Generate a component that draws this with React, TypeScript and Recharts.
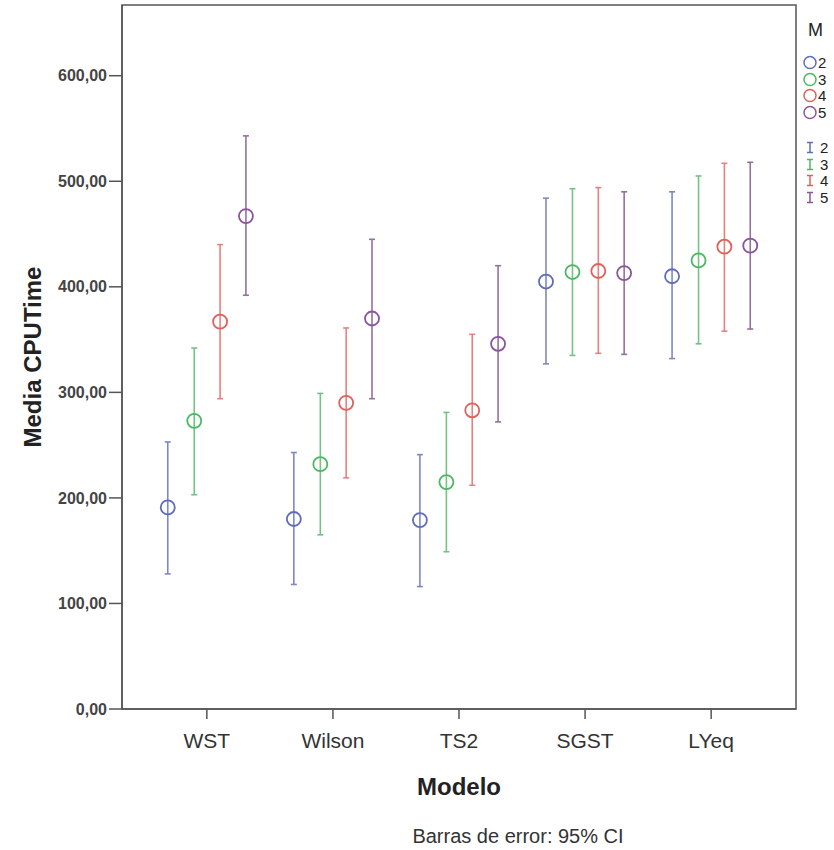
import React from 'react';
import { ScatterChart, Scatter, XAxis, YAxis, ErrorBar, ReferenceArea } from 'recharts';

// Modelo categories and M levels
const categories = ['WST', 'Wilson', 'TS2', 'SGST', 'LYeq'];
const mLevels = ['2', '3', '4', '5'];
const yTicks = [0, 100, 200, 300, 400, 500, 600];

// mean CPUTime per M (one value per modelo)
const meanM2 = [191, 180, 179, 405, 410];
const meanM3 = [273, 232, 215, 414, 425];
const meanM4 = [367, 290, 283, 415, 438];
const meanM5 = [467, 370, 346, 413, 439];

// 95% CI lower bounds
const lowM2 = [128, 118, 116, 327, 332];
const lowM3 = [203, 165, 149, 335, 346];
const lowM4 = [294, 219, 212, 337, 358];
const lowM5 = [392, 294, 272, 336, 360];

// 95% CI upper bounds
const highM2 = [253, 243, 241, 484, 490];
const highM3 = [342, 299, 281, 493, 505];
const highM4 = [440, 361, 355, 494, 517];
const highM5 = [543, 445, 420, 490, 518];

const means = [meanM2, meanM3, meanM4, meanM5];
const lows = [lowM2, lowM3, lowM4, lowM5];
const highs = [highM2, highM3, highM4, highM5];

const colors = ['#5f6db8', '#4cb862', '#e0605a', '#8a559c'];
const barColors = ['#7e87c4', '#72c482', '#e58280', '#93719f'];
// horizontal dodge of each M inside a modelo group
const dodge = [-0.31, -0.1, 0.105, 0.31];

const font = '"Liberation Sans", Arial, sans-serif';

const series = mLevels.map((m, i) => ({
  name: m,
  data: categories.map((c, j) => ({
    x: j + dodge[i],
    y: means[i][j],
    err: [means[i][j] - lows[i][j], highs[i][j] - means[i][j]],
  })),
}));

const fmt = (v: number) => v.toFixed(2).replace('.', ',');

const Legend = () => (
  <div style={{ position: 'absolute', left: 802, top: 16, fontFamily: font, fontSize: 15, color: '#222', lineHeight: '15px' }}>
    <div style={{ position: 'absolute', left: 6, top: 5, fontSize: 18, lineHeight: '18px' }}>M</div>
    {mLevels.map((m, i) => (
      <div key={'c' + m} style={{ position: 'absolute', left: 0, top: 39 + i * 16.6, height: 15, display: 'flex', alignItems: 'center' }}>
        <svg width={15} height={15}>
          <circle cx={8} cy={7.5} r={6} fill="none" stroke={colors[i]} strokeWidth={1.5} />
        </svg>
        <span style={{ marginLeft: 1 }}>{m}</span>
      </div>
    ))}
    {mLevels.map((m, i) => (
      <div key={'e' + m} style={{ position: 'absolute', left: 0, top: 124 + i * 16.6, height: 15, display: 'flex', alignItems: 'center' }}>
        <svg width={15} height={15}>
          <line x1={8} y1={2.5} x2={8} y2={12.5} stroke={colors[i]} strokeWidth={1.5} />
          <line x1={5} y1={2.5} x2={11} y2={2.5} stroke={colors[i]} strokeWidth={1.5} />
          <line x1={5} y1={12.5} x2={11} y2={12.5} stroke={colors[i]} strokeWidth={1.5} />
        </svg>
        <span style={{ marginLeft: 3 }}>{m}</span>
      </div>
    ))}
  </div>
);

export default function App() {
  return (
    <div style={{ position: 'absolute', left: 0, top: 0, width: 834, height: 850, background: '#fff', overflow: 'hidden' }}>
      <ScatterChart width={834} height={850} margin={{ top: 5, right: 38, bottom: 0, left: 0 }}>
        <XAxis
          type="number"
          dataKey="x"
          domain={[-0.673, 4.673]}
          ticks={[0, 1, 2, 3, 4]}
          tickFormatter={(v: number) => categories[v]}
          height={141}
          tickSize={10}
          tickMargin={14}
          axisLine={{ stroke: '#555', strokeWidth: 1.5 }}
          tickLine={{ stroke: '#555', strokeWidth: 1.5 }}
          tick={{ fill: '#333', fontSize: 21, fontFamily: font }}
          allowDataOverflow
          label={(props: any) => {
            const vb = props.viewBox;
            const cx = vb.x + vb.width / 2;
            return (
              <g>
                <text x={cx} y={vb.y + 86} textAnchor="middle" fontFamily={font} fontSize={24} fontWeight="bold" fill="#222">
                  Modelo
                </text>
                <text x={cx + 59} y={vb.y + 134} textAnchor="middle" fontFamily={font} fontSize={20} fill="#333">
                  Barras de error: 95% CI
                </text>
              </g>
            );
          }}
        />
        <YAxis
          type="number"
          dataKey="y"
          domain={[0, 667]}
          ticks={yTicks}
          tickFormatter={fmt}
          width={122}
          tickSize={13}
          tickMargin={2}
          axisLine={{ stroke: '#555', strokeWidth: 1.5 }}
          tickLine={{ stroke: '#555', strokeWidth: 1.5 }}
          tick={{ fill: '#444', fontSize: 16, fontFamily: font, fontWeight: 'bold' }}
          allowDataOverflow
          label={(props: any) => {
            const vb = props.viewBox;
            const cy = vb.y + vb.height / 2;
            return (
              <text x={41} y={cy} transform={`rotate(-90, 41, ${cy})`} textAnchor="middle" fontFamily={font} fontSize={24} fontWeight="bold" fill="#222">
                Media CPUTime
              </text>
            );
          }}
        />
        <ReferenceArea x1={-0.673} x2={4.673} y1={0} y2={667} fill="none" stroke="#555" strokeWidth={1.5} ifOverflow="visible" />
        {series.map((s, i) => (
          <Scatter
            key={s.name}
            name={s.name}
            data={s.data}
            isAnimationActive={false}
            shape={(p: any) => (
              <circle cx={p.cx} cy={p.cy} r={7} fill="none" stroke={colors[i]} strokeWidth={1.8} />
            )}
          >
            <ErrorBar dataKey="err" direction="y" width={3} stroke={barColors[i]} strokeWidth={1.6} isAnimationActive={false} />
          </Scatter>
        ))}
      </ScatterChart>
      <Legend />
    </div>
  );
}
